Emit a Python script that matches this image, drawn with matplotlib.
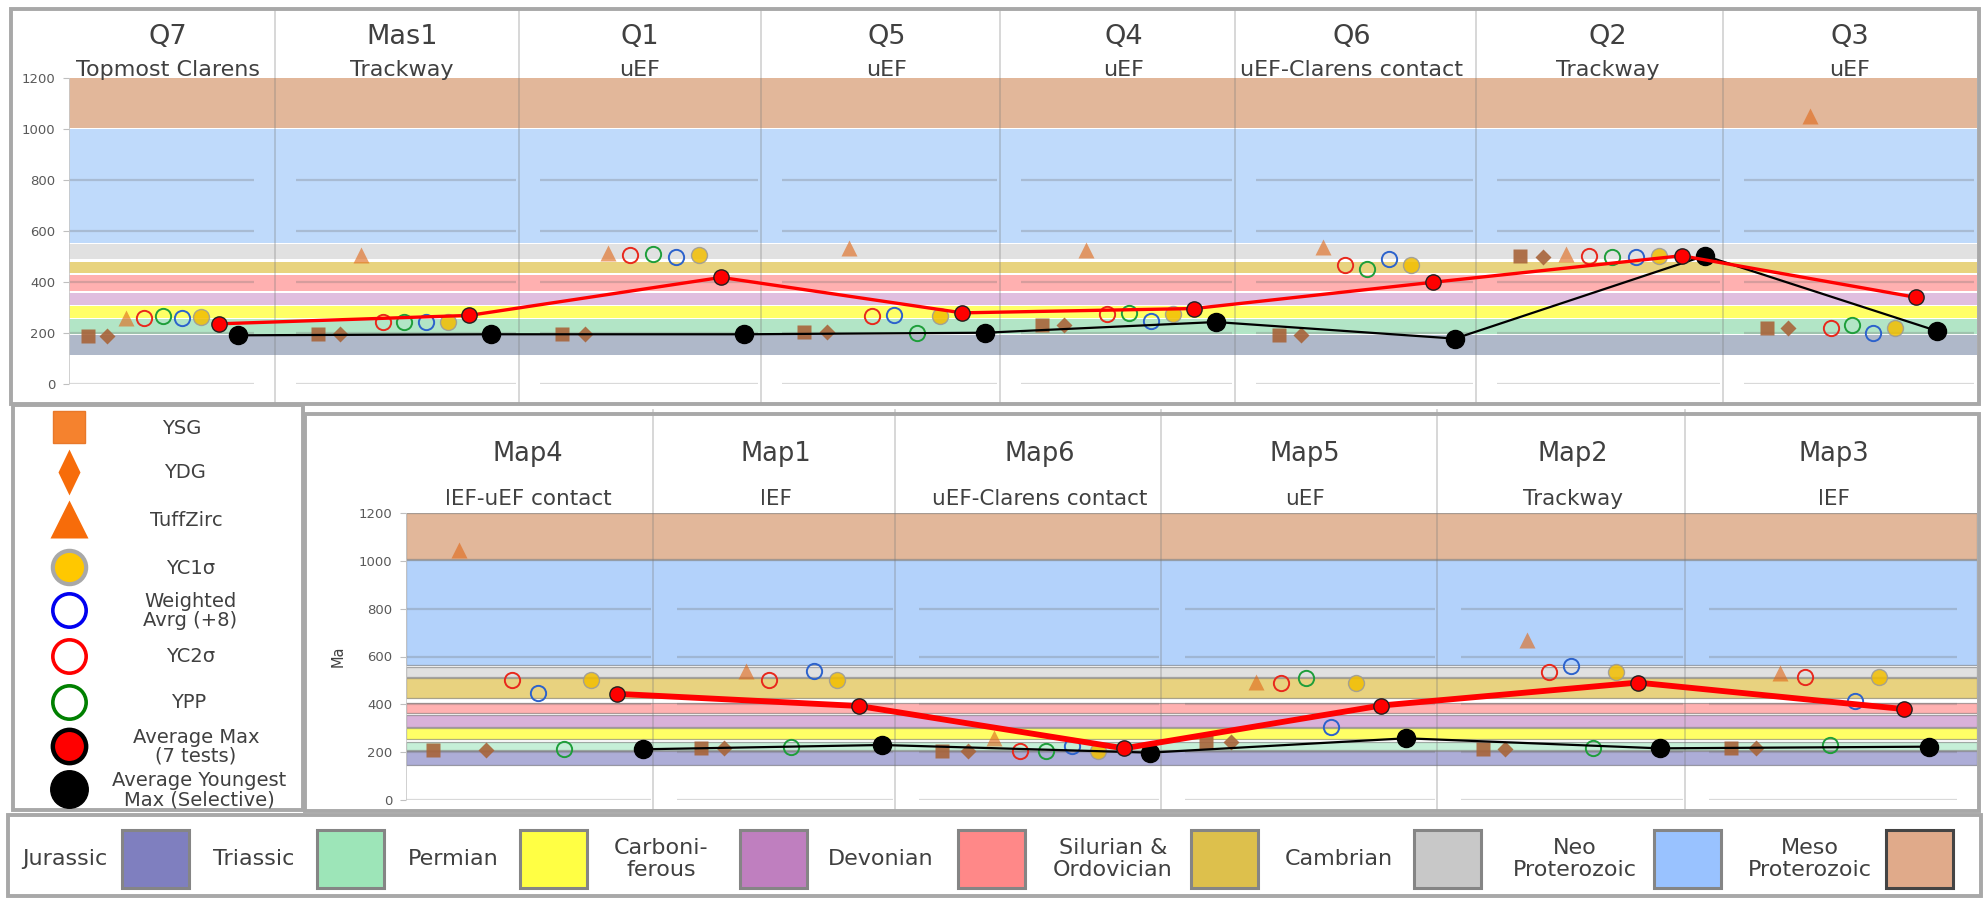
import matplotlib
matplotlib.use("Agg")
import matplotlib.pyplot as plt
from matplotlib.patches import Rectangle

W, H = 1988, 899

# ---------------- data ----------------
top_sites = ["Q7", "Mas1", "Q1", "Q5", "Q4", "Q6", "Q2", "Q3"]
top_units = ["Topmost Clarens", "Trackway", "uEF", "uEF", "uEF",
             "uEF-Clarens contact", "Trackway", "uEF"]
top_ysg = [188, 195, 197, 205, 230, 191, 503, 221]
top_ydg = [188, 195, 197, 205, 230, 191, 500, 221]
top_tuff = [257, 506, 513, 532, 526, 539, 510, 1052]
top_yc2 = [260, 244, 506, 266, 275, 465, 503, 221]
top_ypp = [266, 244, 510, 201, 279, 451, 500, 230]
top_wavg = [257, 244, 500, 269, 247, 490, 497, 201]
top_yc1 = [262, 244, 506, 266, 275, 465, 503, 221]
top_avgmax = [236, 269, 418, 279, 296, 399, 503, 340]
top_youngest = [191, 195, 195, 201, 243, 178, 503, 208]

bot_sites = ["Map4", "Map1", "Map6", "Map5", "Map2", "Map3"]
bot_units = ["lEF-uEF contact", "lEF", "uEF-Clarens contact", "uEF",
             "Trackway", "lEF"]
bot_ysg = [209, 216, 205, 244, 212, 219]
bot_ydg = [209, 219, 205, 244, 212, 219]
bot_tuff = [1044, 541, 258, 495, 670, 530]
bot_yc2 = [502, 502, 205, 488, 537, 513]
bot_ypp = [212, 223, 205, 509, 216, 230]
bot_wavg = [449, 541, 226, 307, 561, 414]
bot_yc1 = [502, 502, 205, 491, 537, 513]
bot_avgmax = [444, 393, 216, 395, 491, 380]
bot_youngest = [212, 230, 198, 258, 216, 223]

periods = ["Jurassic", "Triassic", "Permian", "Carboniferous", "Devonian",
           "Silurian & Ordovician", "Cambrian", "Neo Proterozoic",
           "Meso Proterozoic"]
legend_period_labels = ["Jurassic", "Triassic", "Permian", "Carboni-\nferous",
                        "Devonian", "Silurian &\nOrdovician", "Cambrian",
                        "Neo\nProterozoic", "Meso\nProterozoic"]
top_band_lo = [113, 195, 257, 309, 364, 435, 490, 552, 1003]
top_band_hi = [191, 253, 305, 355, 429, 478, 548, 1000, 1200]
bot_band_lo = [146, 209, 254, 307, 363, 426, 514, 565, 1007]
bot_band_hi = [206, 244, 303, 356, 407, 509, 558, 1002, 1200]

# ---------------- styles ----------------
top_band_colors = ["#AFB8C9", "#B2E5C6", "#FFFF66", "#E0BEDF", "#FFB0B0",
                   "#E8D37E", "#E1E1E1", "#BFDAFB", "#E2B79A"]
bot_band_colors = ["#ADADD7", "#C5EFD7", "#FFFF66", "#D9B1D9", "#FFB1B1",
                   "#E8D27F", "#E0E0E0", "#B3D2FB", "#E2B79A"]
swatch_colors = ["#7F7FBF", "#9DE5B8", "#FFFF44", "#BF7FBF", "#FF8888",
                 "#DDC04C", "#C8C8C8", "#99C2FF", "#E0AA8A"]

TXT = "#404040"
plt.rcParams["font.family"] = ["DejaVu Sans"]

fig = plt.figure(figsize=(W / 100, H / 100), dpi=100)
fig.patch.set_facecolor("white")

# overlay in pixel coordinates for frames, headings and legends
ov = fig.add_axes([0, 0, 1, 1], zorder=10)
ov.set_xlim(0, W)
ov.set_ylim(H, 0)
ov.axis("off")
ov.patch.set_alpha(0)


def box(x0, y0, x1, y1, lw=2.8, ec="#A8A8A8"):
    ov.add_patch(Rectangle((x0, y0), x1 - x0, y1 - y0, fill=False,
                           ec=ec, lw=lw))


def make_axes(x0, x1, ytop, ybot):
    ax = fig.add_axes([x0 / W, 1 - ybot / H, (x1 - x0) / W, (ybot - ytop) / H])
    ax.set_xlim(x0, x1)
    ax.set_ylim(0, 1200)
    for s in ax.spines.values():
        s.set_visible(False)
    ax.set_xticks([])
    ax.set_yticks(range(0, 1201, 200))
    ax.tick_params(axis="y", length=4, color="#BFBFBF", labelsize=9.5,
                   labelcolor="#595959", pad=6)
    ax.axvline(x0, color="#C8C8C8", lw=1.2, zorder=2)
    ax.patch.set_alpha(0)
    return ax


def draw_bands(ax, lo, hi, colors, edged=False):
    for a, b, c in zip(lo, hi, colors):
        if edged:
            ax.axhspan(a, b, facecolor=c, edgecolor=(0.3, 0.3, 0.3, 0.45),
                       lw=0.9, zorder=0)
        else:
            ax.axhspan(a, b, facecolor=c, lw=0, zorder=0)


def draw_grid(ax, edges, gl_left, gl_right):
    for i in range(len(edges) - 1):
        xa = edges[i] + gl_left[i]
        xb = edges[i + 1] - gl_right[i]
        ax.hlines([200, 400, 600, 800], xa, xb, color="#6E6E6E",
                  alpha=0.28, lw=1.6, zorder=1)
        ax.hlines([0], xa, xb, color="#D9D9D9", lw=1.6, zorder=1)


def draw_dividers(ax, xs, ymin, ymax):
    for x in xs:
        ax.axvline(x, ymin=ymin, ymax=ymax, color="#7A7A7A", alpha=0.32,
                   lw=1.3, zorder=2, clip_on=False)


# marker styles per series key
STY = {
    "S": dict(marker="s", ms=10, mfc="#A8643A", mec="none", alpha=0.9),
    "D": dict(marker="D", ms=8.5, mfc="#A8643A", mec="none", alpha=0.9),
    "T": dict(marker="^", ms=12, mfc="#E0691A", mec="none", alpha=0.62),
    "R": dict(marker="o", ms=11, mfc="none", mec="#E8281C", mew=1.4),
    "G": dict(marker="o", ms=11, mfc="none", mec="#1E9E3A", mew=1.4),
    "B": dict(marker="o", ms=11, mfc="none", mec="#2C62CC", mew=1.4),
    "Y": dict(marker="o", ms=11.5, mfc="#F2BE00", mec="#9A9A9A", mew=1.0,
              alpha=0.85),
}


def draw_panel(ax, edges, first_off, step, orders, series, red_lw, blk_lw,
               ms_scale=1.0):
    ncol = len(edges) - 1

    def xs(key):
        return [edges[c] + first_off[c] + orders[c].index(key) * step[c]
                for c in range(ncol)]

    for key in ["S", "D", "T", "R", "G", "B", "Y"]:
        st = dict(STY[key])
        st["ms"] = st["ms"] * ms_scale
        ax.plot(xs(key), series[key], linestyle="none", zorder=4, **st)
    ax.plot(xs("K"), series["K"], color="black", lw=blk_lw, marker="o",
            ms=13 * ms_scale, mfc="black", mec="black", zorder=5)
    ax.plot(xs("M"), series["M"], color="#FF0000", lw=red_lw, marker="o",
            ms=11 * ms_scale, mfc="#FF0000", mec="#202020", mew=1.0,
            zorder=6, solid_capstyle="round")


# ---------------- top panel ----------------
box(11, 9, 1979, 404)
top_edges = [69, 275, 519, 761, 1000, 1235, 1476, 1723, 1977]
top_first = [19, 43, 43, 43, 42, 44, 44, 44]
top_step = [18.75, 21.6, 22.75, 22.6, 21.75, 22.0, 23.1, 21.25]
top_order = ["SDTRGBYMK", "SDTRGBYMK", "SDTRGBYMK", "SDTRBGYMK",
             "SDTRGBYMK", "SDTRGBYMK", "SDTRGBYMK", "SDTRGBYMK"]
top_title_x = [168, 402, 640, 887, 1124, 1352, 1608, 1850]

axT = make_axes(69, 1977, 78, 384)
draw_bands(axT, top_band_lo, top_band_hi, top_band_colors)
draw_grid(axT, top_edges, [0] + [21] * 7, [21] + [3] * 7)
draw_dividers(axT, top_edges[1:-1], -0.06, 1.22)
draw_panel(axT, top_edges, top_first, top_step, top_order,
           dict(S=top_ysg, D=top_ydg, T=top_tuff, R=top_yc2, G=top_ypp,
                B=top_wavg, Y=top_yc1, M=top_avgmax, K=top_youngest),
           red_lw=2.4, blk_lw=1.6)
for x, site, unit in zip(top_title_x, top_sites, top_units):
    ov.text(x, 44, site, ha="center", va="baseline", fontsize=19.5, color=TXT)
    ov.text(x, 76, unit, ha="center", va="baseline", fontsize=16, color=TXT)

# ---------------- bottom panel ----------------
box(305, 414, 1979, 811)
bot_edges = [406, 653, 895, 1161, 1437, 1685, 1977]
bot_first = [27, 48, 47, 45, 46, 46]
bot_step = [26.25, 22.6, 26.0, 25.0, 22.1, 24.75]
bot_order = ["STDRBGYMK", "SDTRGBYMK", "SDTRGBYMK", "SDTRGBYMK",
             "SDTRBGYMK", "SDTRGBYMK"]
bot_title_x = [528, 776, 1040, 1305, 1573, 1834]

axB = make_axes(406, 1977, 513, 800)
draw_bands(axB, bot_band_lo, bot_band_hi, bot_band_colors, edged=True)
draw_grid(axB, bot_edges, [0, 24, 24, 24, 24, 24], [2, 2, 2, 2, 2, 20])
draw_dividers(axB, bot_edges[1:-1], -0.03, 1.36)
draw_panel(axB, bot_edges, bot_first, bot_step, bot_order,
           dict(S=bot_ysg, D=bot_ydg, T=bot_tuff, R=bot_yc2, G=bot_ypp,
                B=bot_wavg, Y=bot_yc1, M=bot_avgmax, K=bot_youngest),
           red_lw=4.2, blk_lw=1.6)
axB.set_ylabel("Ma", fontsize=10.5, color="#404040", labelpad=9)
for x, site, unit in zip(bot_title_x, bot_sites, bot_units):
    ov.text(x, 461, site, ha="center", va="baseline", fontsize=18.5, color=TXT)
    ov.text(x, 505, unit, ha="center", va="baseline", fontsize=15.5, color=TXT)

# ---------------- marker legend ----------------
box(13, 405, 303, 810)
thin_diamond = [(0, 1), (0.48, 0), (0, -1), (-0.48, 0), (0, 1)]
leg_items = [
    ("YSG", 182, 427, dict(marker="s", ms=23, mfc="#F5822E", mec="#E8782A",
                           mew=1)),
    ("YDG", 185, 472, dict(marker=thin_diamond, ms=33, mfc="#F76C0A",
                           mec="none")),
    ("TuffZirc", 186, 519, dict(marker="^", ms=27, mfc="#F76C0A", mec="none")),
    ("YC1σ", 191, 567, dict(marker="o", ms=24, mfc="#FFC800", mec="#A8A8A8",
                            mew=3)),
    ("Weighted\nAvrg (+8)", 190, 610, dict(marker="o", ms=24, mfc="white",
                                           mec="#0000F0", mew=2.6)),
    ("YC2σ", 191, 656, dict(marker="o", ms=24, mfc="white", mec="#FF0000",
                            mew=2.6)),
    ("YPP", 189, 702, dict(marker="o", ms=24, mfc="white", mec="#008000",
                           mew=2.6)),
    ("Average Max\n(7 tests)", 196, 746, dict(marker="o", ms=24, mfc="#FF0000",
                                               mec="black", mew=3.2)),
    ("Average Youngest\nMax (Selective)", 199, 789,
     dict(marker="o", ms=27, mfc="black", mec="black")),
]
for label, tx, y, st in leg_items:
    ov.plot([69], [y], linestyle="none", **st)
    ov.text(tx, y + 1, label, ha="center", va="center", fontsize=14,
            color=TXT, linespacing=1.0)

# ---------------- period legend ----------------
box(8, 815, 1981, 896)
lab_x = [65, 254, 453, 661, 881, 1113, 1339, 1575, 1810]
sw_x = [122, 317, 520, 740, 958, 1191, 1414, 1654, 1886]
for lab, lx, sx, c in zip(legend_period_labels, lab_x, sw_x, swatch_colors):
    ov.text(lx, 859, lab, ha="center", va="center", fontsize=16,
            color=TXT, linespacing=1.1)
    ov.add_patch(Rectangle((sx, 830), 67, 58, facecolor=c,
                           edgecolor="#444444" if lab.startswith("Meso")
                           else "#858585", lw=2.2))

fig.savefig("out.png", dpi=100, facecolor="white")
